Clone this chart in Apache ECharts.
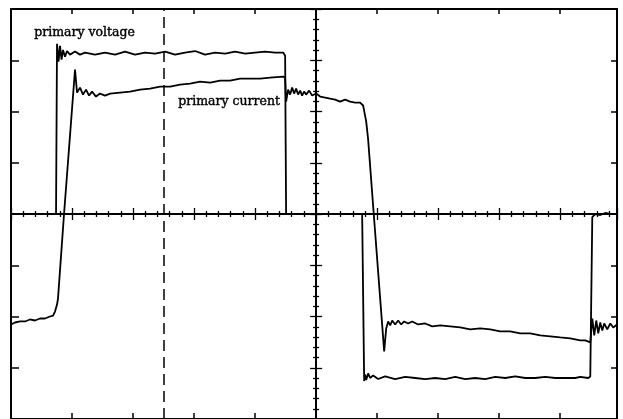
<!DOCTYPE html>
<html>
<head>
<meta charset="utf-8">
<script src="https://cdn.jsdelivr.net/npm/echarts@6/dist/echarts.min.js"></script>
<style>
html,body{margin:0;padding:0;background:#fff;}
#chart{width:623px;height:419px;}
</style>
</head>
<body>
<div id="chart"></div>
<script>
// time in screen divisions, amplitude in vertical divisions
const voltageTime = [0,0.738,0.754,0.779,0.803,0.828,0.852,0.885,0.918,0.967,1.049,1.131,1.213,1.377,1.541,1.705,1.869,2.033,2.197,2.361,2.525,2.689,2.852,3.016,3.180,3.344,3.508,3.672,3.836,4.0,4.164,4.328,4.459,4.492,4.508,5.754,5.787,5.803,5.820,5.852,5.885,5.934,6.016,6.131,6.295,6.459,6.623,6.787,6.951,7.115,7.279,7.443,7.607,7.770,7.934,8.098,8.262,8.426,8.590,8.754,8.918,9.082,9.246,9.328,9.459,9.492,9.525,9.574,9.656,9.738,9.820,9.93];
const voltageValue = [0,0,3.32,2.97,3.28,3.01,3.2,3.07,3.18,3.11,3.17,3.11,3.15,3.11,3.15,3.11,3.17,3.11,3.15,3.13,3.17,3.11,3.15,3.18,3.11,3.15,3.13,3.17,3.13,3.15,3.17,3.15,3.15,3.09,0,0,-3.26,-3.13,-3.24,-3.11,-3.2,-3.15,-3.22,-3.17,-3.22,-3.18,-3.2,-3.22,-3.2,-3.22,-3.18,-3.22,-3.2,-3.22,-3.18,-3.2,-3.17,-3.2,-3.2,-3.18,-3.2,-3.2,-3.2,-3.18,-3.2,-3.17,-0.06,0,-0.02,0.02,0,0];
const currentTime = [0,0.066,0.148,0.230,0.311,0.393,0.475,0.557,0.639,0.689,0.721,0.754,0.770,0.869,1.049,1.082,1.131,1.180,1.230,1.279,1.328,1.393,1.459,1.541,1.623,1.787,1.951,2.115,2.279,2.443,2.607,2.770,2.934,3.098,3.262,3.426,3.590,3.754,3.918,4.082,4.246,4.459,4.492,4.508,4.541,4.574,4.607,4.639,4.672,4.705,4.738,4.770,4.803,4.836,4.885,4.934,5.0,5.066,5.148,5.230,5.311,5.393,5.475,5.557,5.639,5.721,5.770,5.820,5.852,5.944,6.115,6.148,6.180,6.213,6.246,6.295,6.344,6.393,6.443,6.508,6.574,6.672,6.787,6.902,7.033,7.197,7.361,7.525,7.689,7.852,8.016,8.180,8.344,8.508,8.672,8.836,9.0,9.164,9.328,9.410,9.492,9.525,9.557,9.590,9.623,9.656,9.689,9.721,9.770,9.820,9.869,9.93];
const currentValue = [-2.155,-2.117,-2.097,-2.097,-2.058,-2.078,-2.039,-2.039,-2.0,-1.981,-1.903,-1.767,-1.65,0,2.816,2.369,2.466,2.33,2.427,2.311,2.388,2.291,2.35,2.311,2.35,2.369,2.388,2.427,2.447,2.485,2.485,2.524,2.544,2.583,2.563,2.602,2.602,2.641,2.641,2.641,2.66,2.68,2.66,2.194,2.427,2.33,2.466,2.35,2.447,2.33,2.408,2.311,2.388,2.33,2.408,2.311,2.35,2.291,2.272,2.252,2.233,2.194,2.233,2.194,2.175,2.175,2.117,1.806,1.456,0,-2.68,-2.233,-2.097,-2.175,-2.078,-2.155,-2.078,-2.155,-2.097,-2.136,-2.097,-2.155,-2.136,-2.194,-2.175,-2.194,-2.214,-2.252,-2.233,-2.252,-2.291,-2.291,-2.33,-2.33,-2.369,-2.388,-2.408,-2.427,-2.466,-2.466,-2.505,-2.039,-2.369,-2.078,-2.33,-2.117,-2.272,-2.136,-2.252,-2.136,-2.214,-2.155];
const seriesNames = ['primary voltage', 'primary current'];
const cursorTime = [2.5];
const xRange = [0, 9.93];
const yRange = [-4, 4];

const zip = (a, b) => a.map((v, i) => [v, b[i]]);
const black = '#000';
const G = {left: 11, top: 9, width: 606, height: 411};

function frameAxis(extra) {
  return Object.assign({
    type: 'value', interval: 1, axisLabel: {show: false}, splitLine: {show: false},
    axisLine: {show: true, onZero: false, lineStyle: {color: black, width: 2}},
    axisTick: {show: true, inside: true, length: 6, lineStyle: {color: black, width: 1.5}}
  }, extra);
}
function crossAxis(extra, inside) {
  return Object.assign({
    type: 'value', interval: 1, axisLabel: {show: false}, splitLine: {show: false},
    axisLine: {show: true, onZero: true, lineStyle: {color: black, width: 1.8}},
    axisTick: {show: true, inside: inside, length: 6, lineStyle: {color: black, width: 1.3}},
    minorTick: {show: true, splitNumber: 5, length: 3, lineStyle: {color: black, width: 1.3}}
  }, extra);
}
const cx = [xRange[0] - 5, xRange[1] - 5];

const option = {
  animation: false,
  backgroundColor: '#fff',
  grid: [Object.assign({}, G), Object.assign({}, G), Object.assign({}, G)],
  xAxis: [
    frameAxis({gridIndex: 0, position: 'bottom', min: xRange[0], max: xRange[1]}),
    frameAxis({gridIndex: 0, position: 'top', min: xRange[0], max: xRange[1], axisTick: {show: true, inside: true, length: 5, lineStyle: {color: black, width: 1.5}}}),
    crossAxis({gridIndex: 1, position: 'bottom', min: cx[0], max: cx[1]}, false),
    crossAxis({gridIndex: 2, position: 'bottom', min: cx[0], max: cx[1]}, true)
  ],
  yAxis: [
    frameAxis({gridIndex: 0, position: 'left', min: yRange[0], max: yRange[1], axisTick: {show: true, inside: true, length: 8, lineStyle: {color: black, width: 1.5}}}),
    frameAxis({gridIndex: 0, position: 'right', min: yRange[0], max: yRange[1]}),
    crossAxis({gridIndex: 1, position: 'left', min: yRange[0], max: yRange[1]}, false),
    crossAxis({gridIndex: 2, position: 'left', min: yRange[0], max: yRange[1]}, true)
  ],
  graphic: [
    {type: 'text', left: 34, top: 26, silent: true,
     style: {text: seriesNames[0], fill: black, stroke: black, lineWidth: 0.4, font: '12.5px "DejaVu Serif"'}},
    {type: 'text', left: 178, top: 95, silent: true,
     style: {text: seriesNames[1], fill: black, stroke: black, lineWidth: 0.4, font: '12.5px "DejaVu Serif"'}}
  ],
  series: [
    {
      name: seriesNames[0], type: 'line', xAxisIndex: 0, yAxisIndex: 0,
      data: zip(voltageTime, voltageValue), showSymbol: false, symbol: 'none',
      lineStyle: {color: black, width: 1.8}, silent: true,
      markLine: {
        silent: true, symbol: ['none', 'none'], label: {show: false},
        lineStyle: {color: black, width: 1.5, type: [11, 6]},
        data: cursorTime.map(t => ({xAxis: t}))
      }
    },
    {
      name: seriesNames[1], type: 'line', xAxisIndex: 0, yAxisIndex: 0,
      data: zip(currentTime, currentValue), showSymbol: false, symbol: 'none',
      lineStyle: {color: black, width: 1.8}, silent: true
    }
  ]
};
const chart = echarts.init(document.getElementById('chart'), null, {renderer: 'canvas'});
chart.setOption(option);
</script>
</body>
</html>
